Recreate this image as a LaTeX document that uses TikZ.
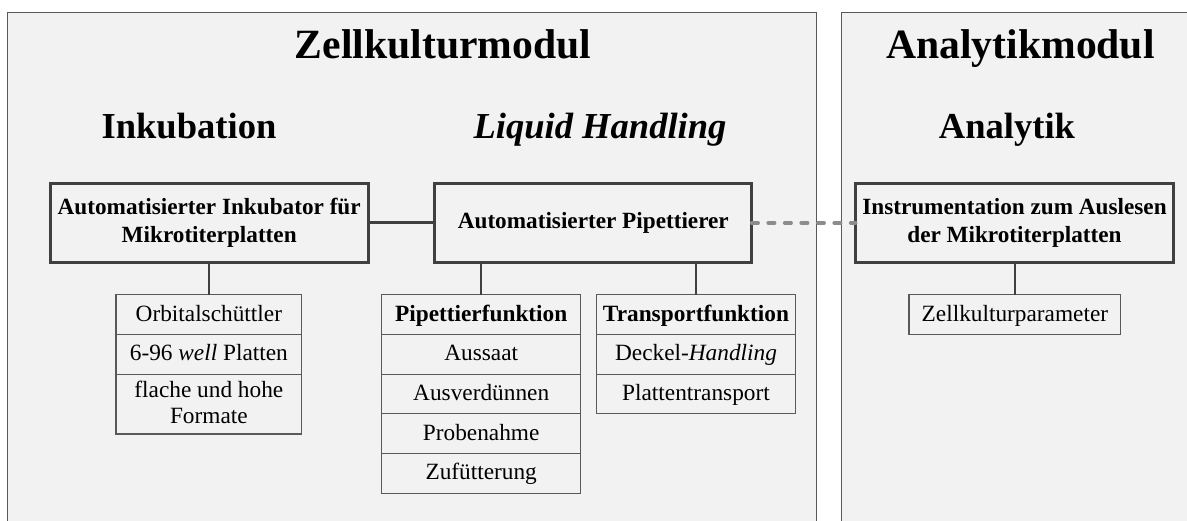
\documentclass[tikz,border=0pt]{standalone}
\usepackage{fontspec}
\setmainfont{Liberation Serif}
\usepackage{tikz}
\usetikzlibrary{positioning}
\definecolor{panelfill}{HTML}{F2F2F2}
\definecolor{panelline}{HTML}{595959}
\definecolor{boxline}{HTML}{404040}
\definecolor{dotline}{HTML}{8C8C8C}

\begin{document}
\begin{tikzpicture}[x=1bp, y=-1bp,
  panel/.style={fill=panelfill, draw=panelline, line width=1bp},
  modtitle/.style={anchor=base, font=\fontsize{41.8}{48}\selectfont\bfseries},
  subtitle/.style={anchor=base, font=\fontsize{36.7}{42}\selectfont\bfseries},
  bigbox/.style={draw=boxline, line width=3bp, minimum width=318bp, minimum height=79bp,
    inner sep=0pt, outer sep=0pt, align=center, font=\fontsize{23.3}{27.7}\selectfont\bfseries},
  listrow/.style={draw=panelline, line width=1.2bp, minimum width=#1, minimum height=39.7bp,
    inner sep=0pt, outer sep=0pt, align=center, text height=17bp, text depth=4bp,
    font=\fontsize{23.4}{26.7}\selectfont},
  sublink/.style={draw=boxline, line width=1.5bp},
  mainlink/.style={draw=boxline, line width=3bp},
  dotlink/.style={draw=dotline, line width=3.5bp, line cap=round, dash pattern=on 6.5bp off 10bp}]
  \useasboundingbox (0,0) rectangle (1187,521);
  \clip (0,0) rectangle (1187,521);
  % Module panels
  \draw[panel] (7.3,12.7) rectangle (816.7,540);
  \draw[panel] (841.7,12.7) rectangle (1200,540);
  \node[modtitle] (zkm) at (443,58.3) {Zellkulturmodul};
  \node[modtitle] (akm) at (1020.5,58.3) {Analytikmodul};
  \node[subtitle] (inkub) at (189,138.3) {Inkubation};
  \node[subtitle] (liquid) at (600,138.3) {\itshape Liquid Handling};
  \node[subtitle] (analyt) at (1007,138.3) {Analytik};
  % Devices
  \node[bigbox] (inkubator) at (209.2,222.8) {Automatisierter Inkubator für\\Mikrotiterplatten};
  \node[bigbox, minimum width=316.7bp] (pipettierer) at (593.3,222.8) {Automatisierter Pipettierer};
  \node[bigbox, minimum width=317.6bp] (instrument) at (1014.5,222.8) {Instrumentation zum Auslesen\\der Mikrotiterplatten};
  % Functions
  \node[listrow=185.7bp, anchor=north] (orbital) at (208.85,294.7) {Orbitalschüttler};
  \node[listrow=185.7bp, below=0pt of orbital] (wellplatten) {6-96 \textit{well} Platten};
  \node[listrow=185.7bp, below=0pt of wellplatten, minimum height=59.9bp, text height=43.7bp] (formate) {flache und hohe\\Formate};
  \node[listrow=199bp, anchor=north, font=\fontsize{23.4}{26.7}\selectfont\bfseries] (pipfkt) at (481.2,294.7) {Pipettierfunktion};
  \node[listrow=199bp, below=0pt of pipfkt] (aussaat) {Aussaat};
  \node[listrow=199bp, below=0pt of aussaat] (ausverd) {Ausverdünnen};
  \node[listrow=199bp, below=0pt of ausverd] (probe) {Probenahme};
  \node[listrow=199bp, below=0pt of probe] (zufuett) {Zufütterung};
  \node[listrow=198.6bp, anchor=north, font=\fontsize{23.4}{26.7}\selectfont\bfseries] (transfkt) at (696,294.7) {Transportfunktion};
  \node[listrow=198.6bp, below=0pt of transfkt] (deckel) {Deckel-\textit{Handling}};
  \node[listrow=198.6bp, below=0pt of deckel] (plattrans) {Plattentransport};
  \node[listrow=211.7bp, anchor=north] (zkparam) at (1014.9,294.7) {Zellkulturparameter};
  % Links
  \draw[mainlink] (inkubator.east) -- (pipettierer.west);
  \draw[dotlink] (pipettierer.east) -- (instrument.west);
  \draw[sublink] (inkubator.south -| orbital.north) -- (orbital.north);
  \draw[sublink] (pipettierer.south -| pipfkt.north) -- (pipfkt.north);
  \draw[sublink] (pipettierer.south -| transfkt.north) -- (transfkt.north);
  \draw[sublink] (instrument.south -| zkparam.north) -- (zkparam.north);
\end{tikzpicture}
\end{document}
